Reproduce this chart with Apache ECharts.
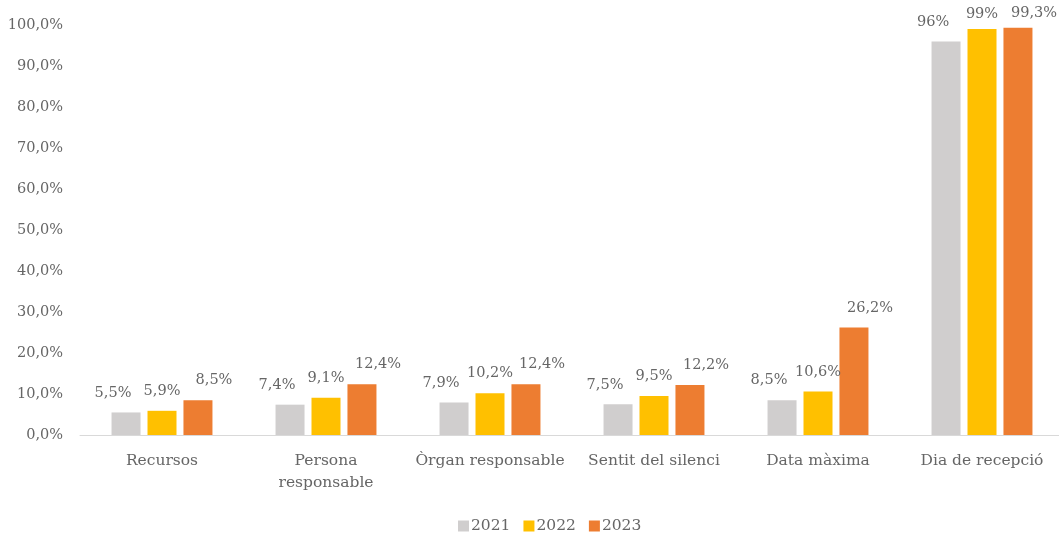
<!DOCTYPE html>
<html>
<head>
<meta charset="utf-8">
<script src="https://cdn.jsdelivr.net/npm/echarts@6/dist/echarts.min.js"></script>
<style>
  html, body { margin: 0; padding: 0; background: #fff; overflow: hidden; }
  #chart { width: 1070px; height: 533px; }
</style>
</head>
<body>
<div id="chart"></div>
<script>
// dades llegides del gràfic
const categories = ['Recursos', 'Persona\nresponsable', 'Òrgan responsable', 'Sentit del silenci', 'Data màxima', 'Dia de recepció']
const years = ['2021', '2022', '2023']
const values2021 = [5.5, 7.4, 7.9, 7.5, 8.5, 96]
const values2022 = [5.9, 9.1, 10.2, 9.5, 10.6, 99]
const values2023 = [8.5, 12.4, 12.4, 12.2, 26.2, 99.3]
const colors = ['#d0cece', '#ffc000', '#ed7d31']
const labelOffsets = [[-13, 0], [0, 0], [16, 0]]

const font = 'DejaVu Serif'
const textColor = '#666666'
const fontSize = 15.5

const pct = v => String(v).replace('.', ',') + '%'

let chart = echarts.init(document.getElementById('chart'))
chart.setOption({
  animation: false,
  textStyle: { fontFamily: font, color: textColor },
  grid: { left: 80, right: 6, top: 25, bottom: 98, containLabel: false },
  legend: {
    bottom: -6,
    left: 453,
    itemWidth: 11,
    itemHeight: 11,
    itemGap: 13,
    icon: 'rect',
    textStyle: { fontFamily: font, fontSize: fontSize, color: textColor, padding: [0, 0, 0, -3] },
    data: years
  },
  xAxis: {
    type: 'category',
    data: categories,
    axisLine: { lineStyle: { color: '#d9d9d9', width: 1 } },
    axisTick: { show: false },
    axisLabel: { fontFamily: font, fontSize: fontSize, color: textColor, margin: 15, lineHeight: 22, interval: 0 }
  },
  yAxis: {
    type: 'value',
    min: 0,
    max: 100,
    interval: 10,
    splitLine: { show: false },
    axisLine: { show: false },
    axisTick: { show: false },
    axisLabel: {
      fontFamily: font, fontSize: 14.5, color: textColor, margin: 17,
      formatter: v => v.toFixed(1).replace('.', ',') + '%'
    }
  },
  series: [values2021, values2022, values2023].map((data, i) => ({
    name: years[i],
    type: 'bar',
    // les etiquetes de les barres més altes queden una mica més avall
    data: data.map(v => v > 98 ? { value: v, label: { distance: 7 } } : v),
    barWidth: 29,
    barGap: '24%',
    itemStyle: { color: colors[i] },
    label: {
      show: true,
      position: 'top',
      distance: 12,
      offset: labelOffsets[i],
      fontFamily: font,
      fontSize: 14.5,
      color: textColor,
      formatter: p => pct(p.value)
    }
  }))
})
</script>
</body>
</html>
